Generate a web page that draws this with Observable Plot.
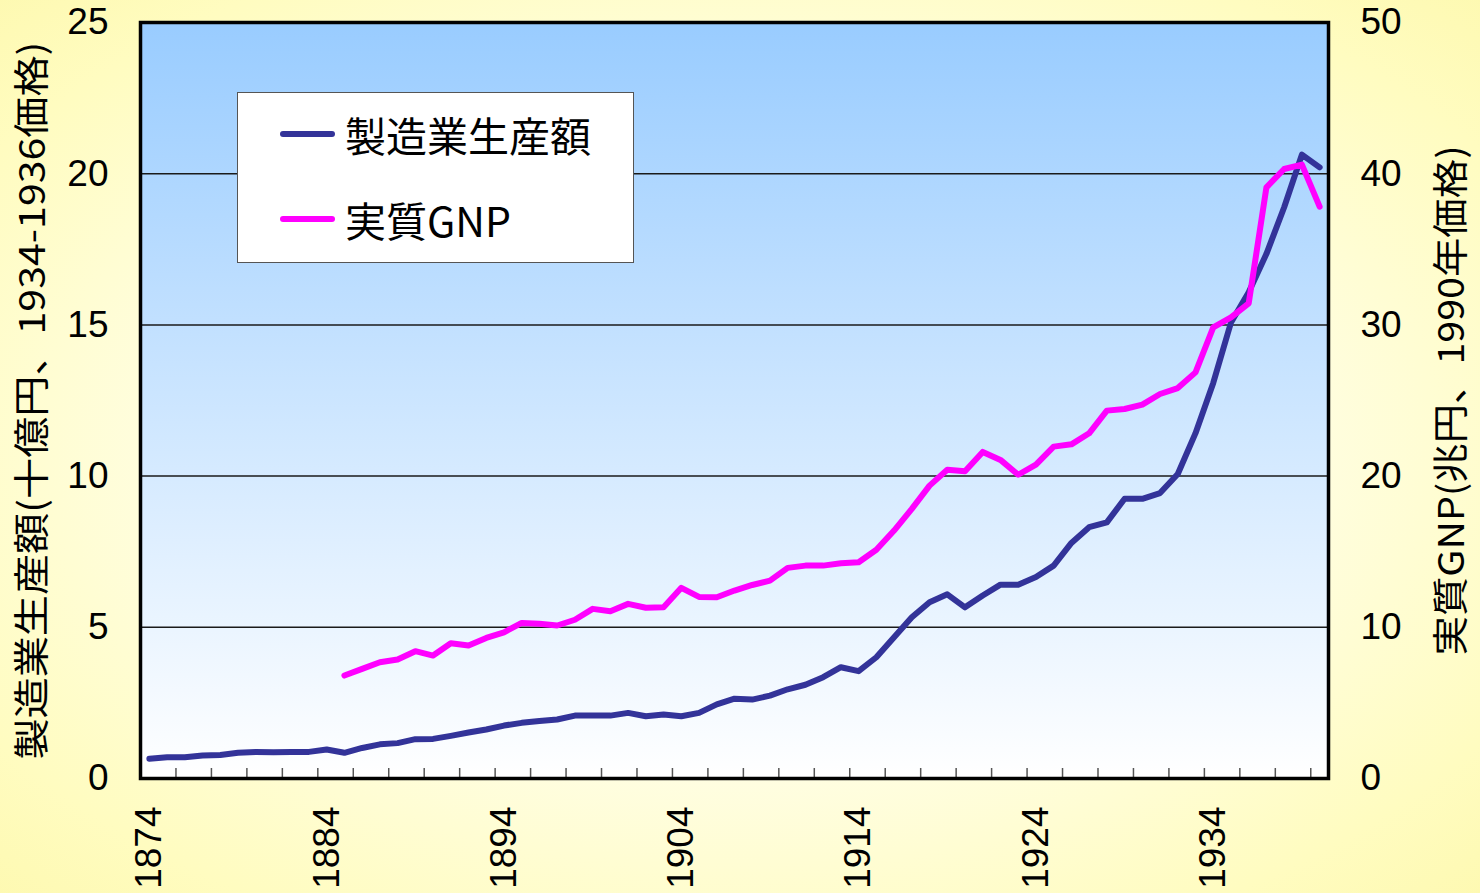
<!DOCTYPE html>
<html>
<head>
<meta charset="utf-8">
<script src="https://cdn.jsdelivr.net/npm/d3@7"></script>
<script src="https://cdn.jsdelivr.net/npm/@observablehq/plot@0.6"></script>
<style>
  html, body { margin: 0; padding: 0; }
  body {
    width: 1480px; height: 893px; overflow: hidden; position: relative;
    background: radial-gradient(ellipse 75% 75% at 50% 50%, #fffffa 0%, #fffee6 45%, #fffcc0 80%, #fdf8ac 100%);
    font-family: "Noto Sans CJK JP", "Noto Sans", sans-serif;
  }
  #chart { position: absolute; left: 0; top: 0; }
  #legend {
    position: absolute; left: 237px; top: 92px; width: 395px; height: 169px;
    background: #ffffff; border: 1px solid #555;
  }
  .entry { position: absolute; left: 42px; height: 50px; display: flex; align-items: center; }
  .swatch { width: 55px; height: 6px; border-radius: 3px; margin-right: 10px; }
  .entry span { font-size: 41px; color: #000; line-height: 1; }
</style>
</head>
<body>
<div id="chart"></div>
<div id="legend"></div>
<script>
// ---- data ----
const years = [1874,1875,1876,1877,1878,1879,1880,1881,1882,1883,1884,1885,1886,1887,1888,1889,1890,1891,1892,1893,1894,1895,1896,1897,1898,1899,1900,1901,1902,1903,1904,1905,1906,1907,1908,1909,1910,1911,1912,1913,1914,1915,1916,1917,1918,1919,1920,1921,1922,1923,1924,1925,1926,1927,1928,1929,1930,1931,1932,1933,1934,1935,1936,1937,1938,1939,1940];
// 製造業生産額 (十億円, 1934-1936価格), 1874-1940
const manufacturing = [0.65,0.70,0.70,0.76,0.78,0.85,0.88,0.87,0.88,0.88,0.96,0.85,1.01,1.13,1.17,1.30,1.31,1.41,1.52,1.62,1.75,1.84,1.90,1.95,2.08,2.08,2.08,2.17,2.06,2.12,2.06,2.17,2.45,2.64,2.61,2.74,2.95,3.10,3.35,3.68,3.55,4.01,4.67,5.33,5.83,6.09,5.66,6.05,6.41,6.41,6.66,7.04,7.79,8.31,8.47,9.25,9.25,9.44,10.07,11.42,13.08,15.08,16.08,17.35,18.89,20.63,20.21];
// 実質GNP (兆円, 1990年価格), 1885-1940
const gnpYears = [1885,1886,1887,1888,1889,1890,1891,1892,1893,1894,1895,1896,1897,1898,1899,1900,1901,1902,1903,1904,1905,1906,1907,1908,1909,1910,1911,1912,1913,1914,1915,1916,1917,1918,1919,1920,1921,1922,1923,1924,1925,1926,1927,1928,1929,1930,1931,1932,1933,1934,1935,1936,1937,1938,1939,1940];
const gnp = [6.81,7.25,7.69,7.87,8.42,8.13,8.95,8.79,9.30,9.67,10.29,10.23,10.12,10.50,11.22,11.06,11.55,11.29,11.33,12.61,12.01,11.99,12.43,12.80,13.09,13.93,14.08,14.08,14.24,14.30,15.13,16.40,17.83,19.37,20.42,20.32,21.60,21.07,20.09,20.76,21.95,22.10,22.83,24.33,24.44,24.73,25.43,25.82,26.86,29.84,30.50,31.43,39.10,40.31,40.60,37.82];

const seriesNames = ["製造業生産額", "実質GNP"];
const seriesColors = ["#333399", "#ff00ff"];
const leftTicks = [0, 5, 10, 15, 20, 25];
const gridTicks = [5, 10, 15, 20];
const xTickLabels = [1874, 1884, 1894, 1904, 1914, 1924, 1934];
const leftTitle = "製造業生産額(十億円、1934-1936価格)";
const rightTitle = "実質GNP(兆円、1990年価格)";
const ratio = 2; // right axis = 2 × left axis

const mfgData = years.map((y, i) => ({year: y, value: manufacturing[i]}));
const gnpData = gnpYears.map((y, i) => ({year: y, value: gnp[i] / ratio}));
const catTicks = d3.range(years[0] + 1.5, years[years.length - 1], 2);

const numFont = "Liberation Sans, Arial, sans-serif";

const chart = Plot.plot({
  width: 1480,
  height: 893,
  marginLeft: 140,
  marginRight: 152,
  marginTop: 22,
  marginBottom: 115,
  style: {background: "transparent", fontFamily: numFont, color: "#000"},
  x: {domain: [years[0] - 0.5, years[years.length - 1] + 0.5], axis: null},
  y: {domain: [0, 25], axis: null},
  marks: [
    Plot.frame({fill: "url(#plotGrad)", stroke: null}),
    Plot.gridY(gridTicks, {stroke: "#1a1a1a", strokeOpacity: 1, strokeWidth: 1.5}),
    Plot.ruleX(catTicks, {y1: 0, y2: 0.33, stroke: "#555", strokeWidth: 1.5}),
    Plot.line(mfgData, {x: "year", y: "value", stroke: seriesColors[0], strokeWidth: 6, strokeLinejoin: "round", strokeLinecap: "round"}),
    Plot.line(gnpData, {x: "year", y: "value", stroke: seriesColors[1], strokeWidth: 6, strokeLinejoin: "round", strokeLinecap: "round"}),
    Plot.frame({stroke: "#000", strokeWidth: 3.5}),
    Plot.axisY(leftTicks, {anchor: "left", tickSize: 0, tickPadding: 32, fontSize: 37, label: null, fontFamily: numFont}),
    Plot.axisY(leftTicks, {anchor: "right", tickSize: 0, tickPadding: 32, fontSize: 37, label: null, tickFormat: d => String(d * ratio), fontFamily: numFont}),
    Plot.axisX(xTickLabels, {anchor: "bottom", tickSize: 0, tickPadding: 28, tickRotate: -90, fontSize: 37, label: null, tickFormat: d => String(d), fontFamily: numFont}),
    Plot.text([leftTitle], {frameAnchor: "left", dx: -107, rotate: -90, fontSize: 36, fontFamily: "Noto Sans CJK JP", fill: "#000"}),
    Plot.text([rightTitle], {frameAnchor: "right", dx: 124, rotate: -90, fontSize: 36, fontFamily: "Noto Sans CJK JP", fill: "#000"})
  ]
});

// gradient for the plotting area
const svg = d3.select(chart);
const defs = svg.insert("defs", ":first-child");
const grad = defs.append("linearGradient").attr("id", "plotGrad").attr("x1", 0).attr("y1", 0).attr("x2", 0).attr("y2", 1);
grad.append("stop").attr("offset", "0%").attr("stop-color", "#99ccff");
grad.append("stop").attr("offset", "100%").attr("stop-color", "#ffffff");

// fit titles to the reference lengths (start-anchored, centred by offset)
function fitTitle(str, len) {
  svg.selectAll("text").filter(function() { return this.textContent === str; })
    .attr("text-anchor", "start")
    .attr("x", -len / 2)
    .attr("textLength", len)
    .attr("lengthAdjust", "spacingAndGlyphs");
}
fitTitle(leftTitle, 718);
fitTitle(rightTitle, 510);

document.getElementById("chart").appendChild(chart);

// legend
const legend = d3.select("#legend");
seriesNames.forEach((name, i) => {
  const e = legend.append("div").attr("class", "entry").style("top", (16 + i * 85) + "px");
  e.append("div").attr("class", "swatch").style("background", seriesColors[i]);
  e.append("span").text(name);
});
</script>
</body>
</html>
